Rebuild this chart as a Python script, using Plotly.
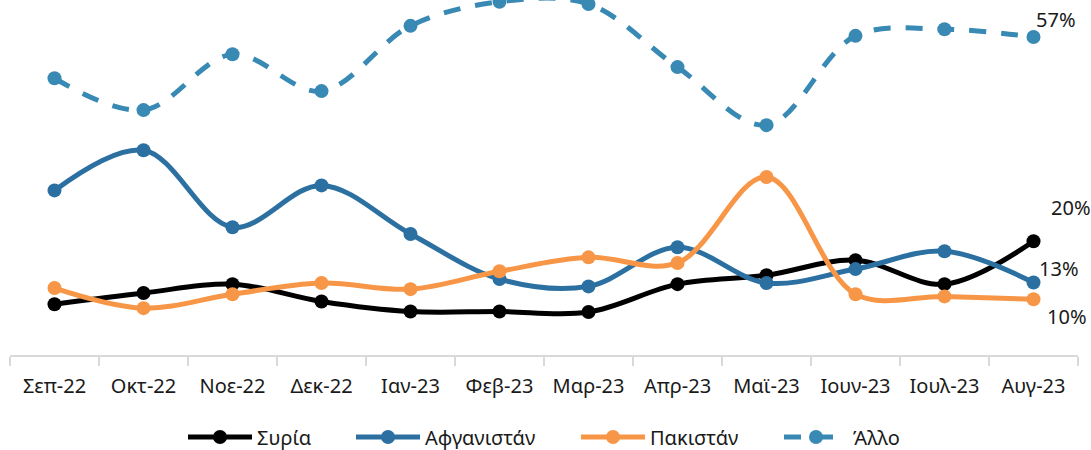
import plotly.graph_objects as go

months = ["Σεπ-22", "Οκτ-22", "Νοε-22", "Δεκ-22", "Ιαν-23", "Φεβ-23",
          "Μαρ-23", "Απρ-23", "Μαϊ-23", "Ιουν-23", "Ιουλ-23", "Αυγ-23"]

syria = [9.1, 11.1, 12.7, 9.6, 7.8, 7.8, 7.7, 12.7, 14.3, 17.0, 12.7, 20.4]
afghanistan = [29.5, 36.7, 22.9, 30.4, 21.7, 13.6, 12.3, 19.3, 12.9, 15.4, 18.6, 13.0]
pakistan = [12.0, 8.4, 10.9, 12.9, 11.8, 15.0, 17.5, 16.5, 31.9, 10.9, 10.5, 10.0]
other = [49.6, 43.9, 53.9, 47.3, 59.0, 63.3, 62.9, 51.6, 41.2, 57.2, 58.4, 57.0]

series_names = ["Συρία", "Αφγανιστάν", "Πακιστάν", "Άλλο"]
series_values = [syria, afghanistan, pakistan, other]
series_colors = ["#000000", "#2C70A2", "#F79646", "#3889B4"]
series_dash = ["solid", "solid", "solid", "17px,15px"]
end_labels = ["20%", "13%", "10%", "57%"]
label_offsets = [(37, -34), (25, -14), (33, 17), (22, -17)]
legend_left_px = [183, 351, 576, 779]

FONT = "Noto Sans"
W, H = 1091, 450

fig = go.Figure()
legend_ids = ["legend", "legend2", "legend3", "legend4"]
for name, vals, col, dash, lid in zip(series_names, series_values, series_colors, series_dash, legend_ids):
    fig.add_trace(go.Scatter(
        x=months, y=vals, name=name, mode="lines+markers",
        line=dict(color=col, width=5, shape="spline", smoothing=1.0, dash=dash),
        marker=dict(color=col, size=14),
        cliponaxis=False, legend=lid,
    ))

for vals, lab, (dx, dy) in zip(series_values, end_labels, label_offsets):
    fig.add_annotation(
        x=months[-1], y=vals[-1], text=lab, showarrow=False,
        xshift=dx, yshift=-dy, font=dict(family=FONT, size=20, color="#1a1a1a"),
    )

legend_layouts = {}
for lid, px in zip(legend_ids, legend_left_px):
    legend_layouts[lid] = dict(
        orientation="h", xref="container", yref="container",
        x=px / W, xanchor="left", y=1 - 437 / H, yanchor="middle",
        font=dict(family=FONT, size=20, color="#1a1a1a"),
        itemwidth=64, borderwidth=0, bgcolor="rgba(0,0,0,0)",
    )

fig.update_layout(
    width=W, height=H,
    margin=dict(l=10, r=13, t=0, b=95, autoexpand=False),
    paper_bgcolor="white", plot_bgcolor="white",
    showlegend=True,
    xaxis=dict(type="category", range=[-0.5, 11.5], showgrid=False,
               showline=True, linecolor="#d9d9d9", linewidth=2,
               ticks="outside", tickson="boundaries", ticklen=9, tickcolor="#d9d9d9",
               tickwidth=1.5,
               tickfont=dict(family=FONT, size=20, color="#1a1a1a"),
               ticklabelstandoff=12),
    yaxis=dict(range=[0, 63.63], visible=False, showgrid=False, zeroline=False),
    **legend_layouts,
)

fig.write_html("out.html", config={"displayModeBar": False},
               post_script="document.body.style.margin='0';document.body.style.overflow='hidden';")
